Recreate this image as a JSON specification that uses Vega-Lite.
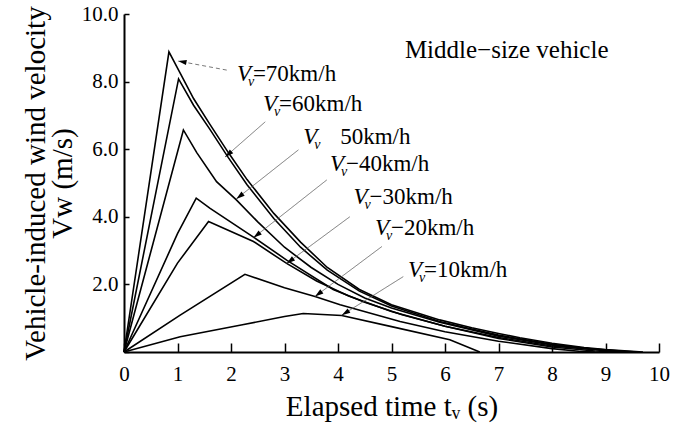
{
  "$schema": "https://vega.github.io/schema/vega-lite/v6.json",
  "width": 535,
  "height": 338,
  "autosize": {"type": "none"},
  "padding": {"left": 124, "top": 14, "right": 33, "bottom": 80},
  "background": "white",
  "config": {
    "view": {"stroke": null},
    "font": "Liberation Serif",
    "axis": {"grid": false, "domainColor": "black", "domainWidth": 2, "tickColor": "black", "tickWidth": 1.5, "labelColor": "black", "titleColor": "black", "labelFont": "Liberation Serif", "titleFont": "Liberation Serif", "labelFontSize": 21, "titleFontSize": 29, "titleFontWeight": "normal"}
  },
  "datasets": {
    "curves": [
      {"speed": "70", "t": 0, "v": 0}, {"speed": "70", "t": 0.84, "v": 8.88}, {"speed": "70", "t": 1.05, "v": 8.25}, {"speed": "70", "t": 1.3, "v": 7.5}, {"speed": "70", "t": 1.6, "v": 6.75}, {"speed": "70", "t": 1.95, "v": 5.9}, {"speed": "70", "t": 2.3, "v": 5.1}, {"speed": "70", "t": 2.8, "v": 4.1}, {"speed": "70", "t": 3.3, "v": 3.25}, {"speed": "70", "t": 3.8, "v": 2.5}, {"speed": "70", "t": 4.4, "v": 1.85}, {"speed": "70", "t": 5.0, "v": 1.4}, {"speed": "70", "t": 5.9, "v": 0.95}, {"speed": "70", "t": 6.5, "v": 0.72}, {"speed": "70", "t": 7.0, "v": 0.55}, {"speed": "70", "t": 7.4, "v": 0.42}, {"speed": "70", "t": 8.0, "v": 0.26}, {"speed": "70", "t": 8.6, "v": 0.13}, {"speed": "70", "t": 9.0, "v": 0.07}, {"speed": "70", "t": 9.7, "v": 0},
      {"speed": "60", "t": 0, "v": 0}, {"speed": "60", "t": 1.02, "v": 8.08}, {"speed": "60", "t": 1.3, "v": 7.3}, {"speed": "60", "t": 1.6, "v": 6.6}, {"speed": "60", "t": 1.95, "v": 5.75}, {"speed": "60", "t": 2.3, "v": 4.95}, {"speed": "60", "t": 2.8, "v": 3.95}, {"speed": "60", "t": 3.3, "v": 3.1}, {"speed": "60", "t": 3.8, "v": 2.42}, {"speed": "60", "t": 4.4, "v": 1.8}, {"speed": "60", "t": 5.0, "v": 1.36}, {"speed": "60", "t": 5.9, "v": 0.9}, {"speed": "60", "t": 6.5, "v": 0.68}, {"speed": "60", "t": 7.0, "v": 0.5}, {"speed": "60", "t": 8.0, "v": 0.23}, {"speed": "60", "t": 8.6, "v": 0.11}, {"speed": "60", "t": 9.3, "v": 0.03}, {"speed": "60", "t": 9.6, "v": 0},
      {"speed": "50", "t": 0, "v": 0}, {"speed": "50", "t": 1.11, "v": 6.57}, {"speed": "50", "t": 1.36, "v": 5.9}, {"speed": "50", "t": 1.73, "v": 5.04}, {"speed": "50", "t": 2.1, "v": 4.5}, {"speed": "50", "t": 2.5, "v": 3.85}, {"speed": "50", "t": 3.0, "v": 3.1}, {"speed": "50", "t": 3.5, "v": 2.5}, {"speed": "50", "t": 4.0, "v": 2.0}, {"speed": "50", "t": 4.5, "v": 1.6}, {"speed": "50", "t": 5.0, "v": 1.3}, {"speed": "50", "t": 5.9, "v": 0.88}, {"speed": "50", "t": 7.0, "v": 0.47}, {"speed": "50", "t": 8.0, "v": 0.21}, {"speed": "50", "t": 9.0, "v": 0.05}, {"speed": "50", "t": 9.4, "v": 0},
      {"speed": "40", "t": 0, "v": 0}, {"speed": "40", "t": 1.0, "v": 3.5}, {"speed": "40", "t": 1.35, "v": 4.55}, {"speed": "40", "t": 1.61, "v": 4.25}, {"speed": "40", "t": 2.42, "v": 3.4}, {"speed": "40", "t": 3.04, "v": 2.72}, {"speed": "40", "t": 3.91, "v": 1.85}, {"speed": "40", "t": 4.5, "v": 1.47}, {"speed": "40", "t": 5.2, "v": 1.1}, {"speed": "40", "t": 6.0, "v": 0.76}, {"speed": "40", "t": 7.0, "v": 0.43}, {"speed": "40", "t": 8.0, "v": 0.18}, {"speed": "40", "t": 9.0, "v": 0.04}, {"speed": "40", "t": 9.3, "v": 0},
      {"speed": "30", "t": 0, "v": 0}, {"speed": "30", "t": 1.0, "v": 2.63}, {"speed": "30", "t": 1.58, "v": 3.86}, {"speed": "30", "t": 2.42, "v": 3.27}, {"speed": "30", "t": 3.04, "v": 2.62}, {"speed": "30", "t": 3.6, "v": 2.1}, {"speed": "30", "t": 4.2, "v": 1.66}, {"speed": "30", "t": 5.0, "v": 1.2}, {"speed": "30", "t": 6.0, "v": 0.76}, {"speed": "30", "t": 7.0, "v": 0.4}, {"speed": "30", "t": 8.0, "v": 0.15}, {"speed": "30", "t": 8.8, "v": 0.03}, {"speed": "30", "t": 9.2, "v": 0},
      {"speed": "20", "t": 0, "v": 0}, {"speed": "20", "t": 1.05, "v": 1.09}, {"speed": "20", "t": 2.26, "v": 2.3}, {"speed": "20", "t": 3.0, "v": 1.9}, {"speed": "20", "t": 3.57, "v": 1.64}, {"speed": "20", "t": 4.04, "v": 1.4}, {"speed": "20", "t": 5.16, "v": 0.9}, {"speed": "20", "t": 6.0, "v": 0.6}, {"speed": "20", "t": 7.0, "v": 0.32}, {"speed": "20", "t": 8.0, "v": 0.1}, {"speed": "20", "t": 8.5, "v": 0.02}, {"speed": "20", "t": 8.8, "v": 0},
      {"speed": "10", "t": 0, "v": 0}, {"speed": "10", "t": 1.05, "v": 0.45}, {"speed": "10", "t": 2.19, "v": 0.8}, {"speed": "10", "t": 3.0, "v": 1.05}, {"speed": "10", "t": 3.35, "v": 1.14}, {"speed": "10", "t": 4.07, "v": 1.08}, {"speed": "10", "t": 5.0, "v": 0.75}, {"speed": "10", "t": 6.09, "v": 0.36}, {"speed": "10", "t": 6.65, "v": 0}
    ],
    "leaders": [
      {"speed": "70", "x1": 1.92, "y1": 8.34, "x2": 1.01, "y2": 8.61, "dashed": true},
      {"speed": "60", "x1": 2.64, "y1": 6.81, "x2": 1.89, "y2": 5.77, "dashed": false},
      {"speed": "50", "x1": 3.26, "y1": 5.98, "x2": 2.1, "y2": 4.53, "dashed": false},
      {"speed": "40", "x1": 3.79, "y1": 5.09, "x2": 2.42, "y2": 3.38, "dashed": false},
      {"speed": "30", "x1": 4.22, "y1": 4.0, "x2": 3.04, "y2": 2.62, "dashed": false},
      {"speed": "20", "x1": 4.82, "y1": 3.12, "x2": 3.57, "y2": 1.64, "dashed": false},
      {"speed": "10", "x1": 5.22, "y1": 2.23, "x2": 4.07, "y2": 1.09, "dashed": false}
    ],
    "labels": [
      {"speed": "70", "x": 2.11, "y": 8.22, "rest": "=70km/h"},
      {"speed": "60", "x": 2.6, "y": 7.34, "rest": "=60km/h"},
      {"speed": "50", "x": 3.35, "y": 6.36, "rest": "50km/h"},
      {"speed": "40", "x": 3.85, "y": 5.56, "rest": "−40km/h"},
      {"speed": "30", "x": 4.29, "y": 4.59, "rest": "−30km/h"},
      {"speed": "20", "x": 4.69, "y": 3.67, "rest": "−20km/h"},
      {"speed": "10", "x": 5.31, "y": 2.43, "rest": "=10km/h"}
    ],
    "note": [{"x": 5.25, "y": 8.93, "text": "Middle−size vehicle"}]
  },
  "layer": [
    {
      "data": {"name": "curves"},
      "mark": {"type": "line", "color": "black", "strokeWidth": 1.6},
      "encoding": {
        "x": {"field": "t", "type": "quantitative", "scale": {"domain": [0, 10], "nice": false},
          "axis": {"values": [0,1,2,3,4,5,6,7,8,9,10], "tickSize": -9, "labelPadding": 20, "labelFlush": false, "title": "Elapsed time tᵥ (s)", "titlePadding": 8}},
        "y": {"field": "v", "type": "quantitative", "scale": {"domain": [0, 10], "nice": false},
          "axis": {"values": [0,1,2,3,4,5,6,7,8,9,10], "tickSize": -5, "labelPadding": 11, "labelFlush": false, "labelExpr": "datum.value > 0 && datum.value % 2 == 0 ? format(datum.value, '.1f') : ''", "title": ["Vehicle-induced wind velocity", "Vw  (m/s)"], "titleLineHeight": 27, "titlePadding": 4}},
        "detail": {"field": "speed"},
        "order": {"field": "t", "type": "quantitative"}
      }
    },
    {
      "data": {"name": "leaders"},
      "mark": {"type": "rule", "color": "#555555", "strokeWidth": 0.8},
      "encoding": {
        "x": {"field": "x1", "type": "quantitative"},
        "y": {"field": "y1", "type": "quantitative"},
        "x2": {"field": "x2"},
        "y2": {"field": "y2"},
        "strokeDash": {"field": "dashed", "type": "nominal", "scale": {"domain": [true, false], "range": [[4, 3], [1, 0]]}, "legend": null}
      }
    },
    {
      "data": {"name": "leaders"},
      "transform": [{"calculate": "atan2((datum.x2 - datum.x1) * 53.5, (datum.y2 - datum.y1) * 33.8) * 180 / PI", "as": "ang"}],
      "mark": {"type": "point", "shape": "M0,0L0.55,1.8L-0.55,1.8Z", "filled": true, "color": "black", "opacity": 1, "size": 90},
      "encoding": {
        "x": {"field": "x2", "type": "quantitative"},
        "y": {"field": "y2", "type": "quantitative"},
        "angle": {"field": "ang", "type": "quantitative", "scale": null}
      }
    },
    {
      "data": {"name": "labels"},
      "mark": {"type": "text", "align": "left", "baseline": "middle", "font": "Liberation Serif", "fontStyle": "italic", "fontSize": 23, "color": "black"},
      "encoding": {
        "x": {"field": "x", "type": "quantitative"},
        "y": {"field": "y", "type": "quantitative"},
        "text": {"value": "V"}
      }
    },
    {
      "data": {"name": "labels"},
      "mark": {"type": "text", "align": "left", "baseline": "middle", "font": "Liberation Serif", "fontStyle": "italic", "fontSize": 14, "color": "black", "dx": 11, "dy": 8},
      "encoding": {
        "x": {"field": "x", "type": "quantitative"},
        "y": {"field": "y", "type": "quantitative"},
        "text": {"value": "v"}
      }
    },
    {
      "data": {"name": "labels"},
      "transform": [{"filter": "datum.speed != '50'"}],
      "mark": {"type": "text", "align": "left", "baseline": "middle", "font": "Liberation Serif", "fontSize": 23, "color": "black", "dx": 16},
      "encoding": {
        "x": {"field": "x", "type": "quantitative"},
        "y": {"field": "y", "type": "quantitative"},
        "text": {"field": "rest"}
      }
    },
    {
      "data": {"name": "labels"},
      "transform": [{"filter": "datum.speed == '50'"}],
      "mark": {"type": "text", "align": "left", "baseline": "middle", "font": "Liberation Serif", "fontSize": 23, "color": "black", "dx": 37},
      "encoding": {
        "x": {"field": "x", "type": "quantitative"},
        "y": {"field": "y", "type": "quantitative"},
        "text": {"field": "rest"}
      }
    },
    {
      "data": {"name": "note"},
      "mark": {"type": "text", "align": "left", "baseline": "middle", "font": "Liberation Serif", "fontSize": 25, "color": "black"},
      "encoding": {
        "x": {"field": "x", "type": "quantitative"},
        "y": {"field": "y", "type": "quantitative"},
        "text": {"field": "text"}
      }
    }
  ]
}
